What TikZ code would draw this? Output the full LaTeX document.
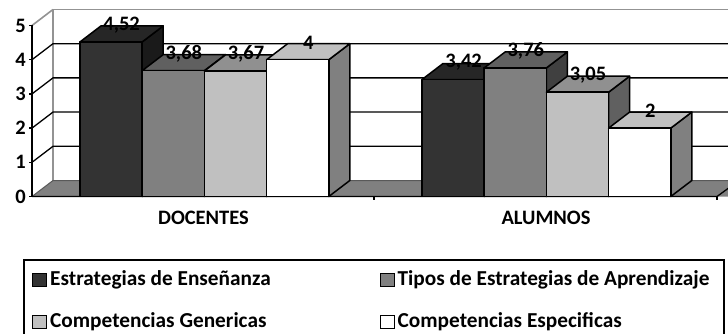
\documentclass[tikz,border=0pt]{standalone}
\usepackage{fontspec}
\setmainfont{Carlito}
\begin{document}
\begin{tikzpicture}[x=1pt,y=-1pt,
  bedge/.style={draw=black,line width=1.5pt,line join=round},
  grid/.style={draw=black,line width=1.3pt},
  wall/.style={draw=gray!85,line width=1.6pt},
  val/.style={font=\bfseries\fontsize{20.5}{20}\selectfont,inner sep=0pt},
  axl/.style={font=\bfseries\fontsize{20.5}{20}\selectfont,inner sep=0pt,anchor=east},
  cat/.style={font=\bfseries\fontsize{20.5}{20}\selectfont,inner sep=0pt},
  leg/.style={font=\bfseries\fontsize{21.3}{20}\selectfont,inner sep=0pt,anchor=west},
  legsq/.style={draw=black,line width=1.3pt,minimum size=13.5pt,inner sep=0pt}]
\useasboundingbox (0,0) rectangle (728,334);
\clip (0,0) rectangle (728,334);
\fill[white] (0,0) rectangle (728,334);
\def\dx{21}\def\dy{16}\def\yz{196.5}\def\un{34.2}
% floor
\fill[gray] (32,\yz) -- (53,\yz-\dy) -- (760,\yz-\dy) -- (739,\yz) -- cycle;
% back wall
\draw[wall] (53,\yz-\dy) -- (53,\yz-\dy-5*\un) -- (760,\yz-\dy-5*\un);
\draw[wall] (32,\yz-5*\un) -- (53,\yz-\dy-5*\un);
\foreach \k in {1,2,3,4}{
  \draw[grid] (32,\yz-\k*\un) -- (53,\yz-\dy-\k*\un) -- (760,\yz-\dy-\k*\un);
}
\draw[draw=gray!70!black,line width=1pt] (32,\yz) -- (53,\yz-\dy) -- (760,\yz-\dy);
% axes
\draw[black,line width=1.3pt] (32,\yz-5*\un) -- (32,\yz);
\draw[black,line width=1.3pt] (32,\yz) -- (717,\yz) -- (739,\yz-\dy);
\foreach \k in {0,...,5}{
  \draw[black,line width=1.3pt] (29,\yz-\k*\un) -- (32,\yz-\k*\un);
  \node[axl] (ax\k) at (26,\yz-\k*\un) {\k};
}
\foreach \xx in {374,717}{\draw[black,line width=1.3pt] (\xx,\yz) -- (\xx,\yz+3);}
% bars
\newcommand\drawbar[7]{% name, x, value, label, front, top, side
  \pgfmathsetmacro\xa{#2}\pgfmathsetmacro\xb{#2+62.2}
  \pgfmathsetmacro\yt{\yz-#3*\un}
  \fill[#7] (\xb,\yz) -- (\xb+\dx,\yz-\dy) -- (\xb+\dx,\yt-\dy) -- (\xb,\yt) -- cycle;
  \draw[bedge] (\xb,\yz) -- (\xb+\dx,\yz-\dy) -- (\xb+\dx,\yt-\dy) -- (\xb,\yt) -- cycle;
  \filldraw[bedge,fill=#6] (\xa,\yt) -- (\xa+\dx,\yt-\dy) -- (\xb+\dx,\yt-\dy) -- (\xb,\yt) -- cycle;
  \filldraw[bedge,fill=#5] (\xa,\yz) rectangle (\xb,\yt);
  \node[val] (#1) at ({(\xa+\xb)/2+10.5},\yt-17) {#4};
}
\definecolor{cA}{HTML}{333333}\definecolor{cAt}{HTML}{262626}\definecolor{cAs}{HTML}{1A1A1A}
\definecolor{cB}{HTML}{808080}\definecolor{cBt}{HTML}{606060}\definecolor{cBs}{HTML}{404040}
\definecolor{cC}{HTML}{C0C0C0}\definecolor{cCt}{HTML}{909090}\definecolor{cCs}{HTML}{606060}
\definecolor{cD}{HTML}{FFFFFF}\definecolor{cDt}{HTML}{C0C0C0}\definecolor{cDs}{HTML}{808080}
\drawbar{d1}{80}{4.52}{4,52}{cA}{cAt}{cAs}
\drawbar{d2}{142.2}{3.68}{3,68}{cB}{cBt}{cBs}
\drawbar{d3}{204.4}{3.67}{3,67}{cC}{cCt}{cCs}
\drawbar{d4}{266.6}{4}{4}{cD}{cDt}{cDs}
\drawbar{a1}{422}{3.42}{3,42}{cA}{cAt}{cAs}
\drawbar{a2}{484.2}{3.76}{3,76}{cB}{cBt}{cBs}
\drawbar{a3}{546.4}{3.05}{3,05}{cC}{cCt}{cCs}
\drawbar{a4}{608.6}{2}{2}{cD}{cDt}{cDs}
% categories
\node[cat] (docentes) at (203.5,218) {DOCENTES};
\node[cat] (alumnos) at (546,218) {ALUMNOS};
% legend
\draw[black,line width=1.5pt] (24,340) -- (24,260) -- (724,260) -- (724,340);
\node[legsq,fill=cA] (l1) at (39.5,280) {};
\node[leg] (t1) at (50,280) {Estrategias de Enseñanza};
\node[legsq,fill=cB] (l2) at (387.5,280) {};
\node[leg] (t2) at (397.5,280) {Tipos de Estrategias de Aprendizaje};
\node[legsq,fill=cC] (l3) at (39.5,322) {};
\node[leg] (t3) at (50,322) {Competencias Genericas};
\node[legsq,fill=cD] (l4) at (387.5,322) {};
\node[leg] (t4) at (397.5,322) {Competencias Especificas};
\end{tikzpicture}
\end{document}
